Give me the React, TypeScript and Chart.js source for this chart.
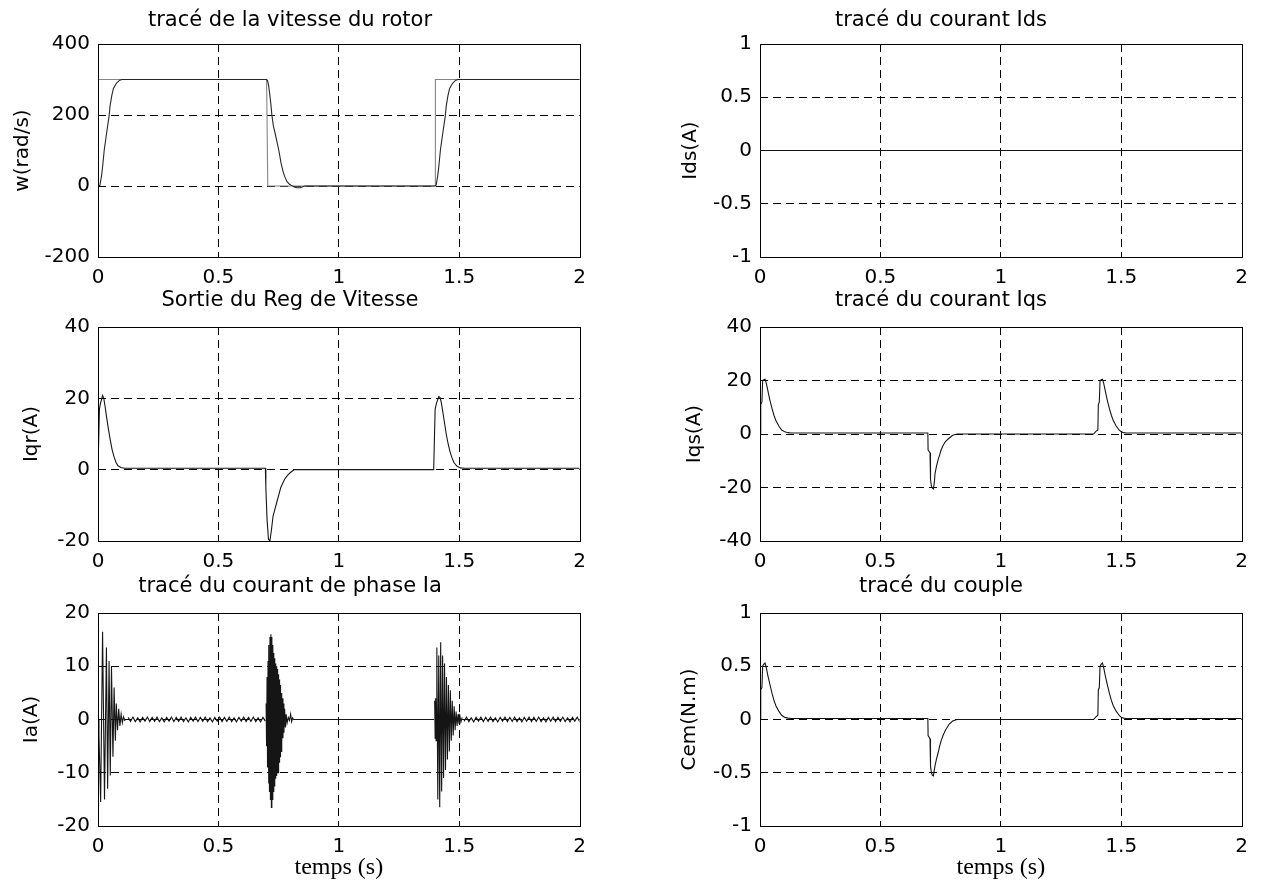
import React, { useEffect, useRef } from 'react';
import { Chart, registerables } from 'chart.js';

Chart.register(...registerables);

// ---------- data (time in s) ----------
const xTickValues = [0, 0.5, 1, 1.5, 2];

// rotor speed
const wRefTime = [0, 0.7, 0.705, 1.4, 1.401, 2];
const wRefValue = [300, 300, 0, 0, 300, 300];
const wTime = [0, 0.008, 0.015, 0.02, 0.026, 0.036, 0.046, 0.05, 0.057, 0.064, 0.077, 0.09, 0.1,
  0.7, 0.704, 0.708, 0.713, 0.718, 0.722, 0.728, 0.735, 0.743, 0.751, 0.76, 0.768, 0.775, 0.785, 0.795,
  0.805, 0.815, 0.825, 0.84, 0.85, 0.86,
  1.4, 1.404, 1.411, 1.416, 1.422, 1.432, 1.442, 1.446, 1.453, 1.46, 1.473, 1.486, 1.496, 2];
const wValue = [0, 2, 30, 60, 102, 150, 197, 225, 254, 275, 290, 298, 300,
  300, 297, 285, 260, 230, 200, 170, 150, 125, 100, 65, 42, 27, 12, 5,
  1, -3, -5, -5, -2, 0,
  0, 2, 30, 60, 102, 150, 197, 225, 254, 275, 290, 298, 300, 300];

// Ids
const idsTime = [0, 2];
const idsValue = [0, 0];

// speed regulator output Iqr
const iqrTime = [0, 0.002, 0.006, 0.01, 0.014, 0.019, 0.024, 0.03, 0.035, 0.043, 0.051, 0.059, 0.067,
  0.075, 0.083, 0.095, 0.11,
  0.695, 0.697, 0.702, 0.708, 0.714, 0.72, 0.727, 0.735, 0.743, 0.751, 0.759, 0.767, 0.775, 0.787, 0.799, 0.815,
  1.394, 1.396, 1.4, 1.405, 1.41, 1.415, 1.42, 1.425, 1.43, 1.438, 1.446, 1.454, 1.462, 1.47, 1.478,
  1.49, 1.505, 1.52, 2];
const iqrValue = [0, 6, 17, 18.5, 19.5, 20.8, 20, 17.5, 15, 11.5, 8.3, 5.5, 3.5,
  2, 1.1, 0.6, 0.4,
  0.4, -5, -14, -19.5, -20, -17, -13, -11, -9, -7, -5, -3.8, -2.7, -1.6, -0.8, 0,
  0, 6, 17, 18.5, 19.5, 20.5, 20.3, 19, 17, 13.5, 10, 7.2, 5, 3.3, 2,
  1, 0.5, 0.4, 0.4];

// Iqs and torque (same time base)
const currentTime = [0, 0.002, 0.004, 0.008, 0.011, 0.016, 0.021, 0.026, 0.032, 0.041, 0.05, 0.058,
  0.066, 0.078, 0.09, 0.103, 0.116, 0.13,
  0.697, 0.698, 0.706, 0.708, 0.712, 0.716, 0.72, 0.724, 0.727, 0.733, 0.74, 0.746, 0.752, 0.76, 0.77,
  0.785, 0.8, 0.818,
  1.385, 1.395, 1.403, 1.405, 1.409, 1.412, 1.417, 1.422, 1.427, 1.433, 1.442, 1.451, 1.459, 1.467,
  1.479, 1.491, 1.5, 1.51, 1.52, 2];
const iqsValue = [0, 0.4, 11, 12, 20, 20.3, 20.5, 19, 16.5, 12.7, 9.5, 7,
  5, 3, 1.5, 0.8, 0.5, 0.4,
  0.4, -6, -7, -17, -19.5, -20.2, -20.5, -18, -14.7, -12, -9.5, -7.8, -6, -4.3, -2.8,
  -1.6, -0.5, 0,
  0, 1, 1.5, 11, 12, 20, 20.3, 20.5, 19, 16.5, 12.7, 9.5, 7, 5,
  3, 1.5, 0.8, 0.5, 0.4, 0.4];
const cemValue = [0, 0.01, 0.28, 0.3, 0.5, 0.52, 0.53, 0.49, 0.42, 0.33, 0.245, 0.18,
  0.13, 0.078, 0.04, 0.02, 0.013, 0.01,
  0.01, -0.15, -0.18, -0.44, -0.5, -0.525, -0.53, -0.47, -0.43, -0.37, -0.31, -0.25, -0.2, -0.15, -0.1,
  -0.045, -0.015, 0,
  0, 0.025, 0.04, 0.28, 0.3, 0.5, 0.52, 0.53, 0.49, 0.42, 0.33, 0.245, 0.18, 0.13,
  0.078, 0.04, 0.02, 0.013, 0.01, 0.01];

// phase current Ia
const iaBurst1Time = [0, 0.004, 0.011, 0.019, 0.027, 0.035, 0.04, 0.046, 0.051, 0.056, 0.062, 0.067,
  0.072, 0.076, 0.081, 0.086, 0.091, 0.096, 0.101, 0.106, 0.112];
const iaBurst1Value = [0, -3, -15.5, 16.5, -15, 13.5, -13, 11, -10.5, 10, -7, 6,
  -4, 3, -2, 2, -1.2, 1, -0.6, 0.5, -0.3];
const iaRipple1Time = [0.125, 0.135, 0.145, 0.155, 0.165, 0.175, 0.185, 0.195, 0.205, 0.215,
  0.225, 0.235, 0.245, 0.255, 0.265, 0.275, 0.285, 0.295, 0.305, 0.315,
  0.325, 0.335, 0.345, 0.355, 0.365, 0.375, 0.385, 0.395, 0.405, 0.415,
  0.425, 0.435, 0.445, 0.455, 0.465, 0.475, 0.485, 0.495, 0.505, 0.515,
  0.525, 0.535, 0.545, 0.555, 0.565, 0.575, 0.585, 0.595, 0.605, 0.615,
  0.625, 0.635, 0.645, 0.655, 0.665, 0.675, 0.685, 0.695];
const iaRipple1Value = [0.4, -0.35, 0.45, -0.4, 0.3, -0.45, 0.4, -0.3, 0.45, -0.4,
  0.4, -0.35, 0.45, -0.4, 0.3, -0.45, 0.4, -0.3, 0.45, -0.4,
  0.4, -0.35, 0.45, -0.4, 0.3, -0.45, 0.4, -0.3, 0.45, -0.4,
  0.4, -0.35, 0.45, -0.4, 0.3, -0.45, 0.4, -0.3, 0.45, -0.4,
  0.4, -0.35, 0.45, -0.4, 0.3, -0.45, 0.4, -0.3, 0.45, -0.4,
  0.4, -0.35, 0.45, -0.4, 0.3, -0.45, 0.4, -0.3];
const iaBurst2Time = [0.698, 0.7, 0.702, 0.704, 0.706, 0.708, 0.71, 0.712, 0.714, 0.716,
  0.718, 0.72, 0.722, 0.724, 0.726, 0.728, 0.73, 0.732, 0.734, 0.736,
  0.738, 0.74, 0.742, 0.744, 0.746, 0.748, 0.75, 0.752, 0.754, 0.756,
  0.758, 0.76, 0.762, 0.764, 0.766, 0.768, 0.77, 0.772,
  0.775, 0.778, 0.781, 0.785, 0.79, 0.795, 0.8, 0.804, 0.808, 0.812, 1.395];
const iaBurst2Value = [3, -5, 8, -9, 11, -12, 14, -13.5, 15.5, -15,
  16, -16.5, 15.5, -15, 14, -13.5, 12.5, -12.5, 11.5, -11,
  10.5, -10.5, 10, -10, 9.5, -10, 8.5, -8, 7.5, -7,
  6.5, -6, 5, -4.5, 4, -3.5, 3, -2.5,
  2, -1.5, 1, -0.7, 0.4, -0.2, 1, -0.4, 0.3, 0, 0];
const iaBurst3Time = [1.398, 1.4, 1.402, 1.404, 1.407, 1.411, 1.415, 1.419, 1.423, 1.427,
  1.431, 1.435, 1.439, 1.443, 1.447, 1.451, 1.455, 1.459, 1.463, 1.467,
  1.471, 1.475, 1.479, 1.483, 1.487, 1.491, 1.495, 1.499, 1.503, 1.507, 1.512];
const iaBurst3Value = [3.5, -3.5, 4, -4, 13.5, -15, 12, -16.5, 14.5, -13.5,
  12, -11, 10.5, -9.5, 8, -7.5, 6.5, -6, 5.5, -4,
  3.5, -3, 2.5, -2, 1.5, -1.2, 1, -0.8, 0.6, -0.5, 0.4];
const iaRipple2Time = [1.52, 1.53, 1.54, 1.55, 1.56, 1.57, 1.58, 1.59, 1.6, 1.61,
  1.62, 1.63, 1.64, 1.65, 1.66, 1.67, 1.68, 1.69, 1.7, 1.71,
  1.72, 1.73, 1.74, 1.75, 1.76, 1.77, 1.78, 1.79, 1.8, 1.81,
  1.82, 1.83, 1.84, 1.85, 1.86, 1.87, 1.88, 1.89, 1.9, 1.91,
  1.92, 1.93, 1.94, 1.95, 1.96, 1.97, 1.98, 1.99, 2];
const iaRipple2Value = [-0.35, 0.45, -0.4, 0.3, -0.45, 0.4, -0.3, 0.45, -0.4, 0.4,
  -0.35, 0.45, -0.4, 0.3, -0.45, 0.4, -0.3, 0.45, -0.4, 0.4,
  -0.35, 0.45, -0.4, 0.3, -0.45, 0.4, -0.3, 0.45, -0.4, 0.4,
  -0.35, 0.45, -0.4, 0.3, -0.45, 0.4, -0.3, 0.45, -0.4, 0.4,
  -0.35, 0.45, -0.4, 0.3, -0.45, 0.4, -0.3, 0.45, -0.4];

// y-axis tick settings per panel
const wTicks = [-200, 0, 200, 400];
const idsTicks = [-1, -0.5, 0, 0.5, 1];
const iqrTicks = [-20, 0, 20, 40];
const iqsTicks = [-40, -20, 0, 20, 40];
const iaTicks = [-20, -10, 0, 10, 20];
const cemTicks = [-1, -0.5, 0, 0.5, 1];

// ---------- helpers ----------
const pts = (t: number[], v: number[]) => t.map((x, i) => ({ x, y: v[i] }));

const SANS = 'DejaVu Sans';

const boxPlugin = {
  id: 'matlabBox',
  afterDraw(chart: any) {
    const { ctx, chartArea } = chart;
    const l = Math.round(chartArea.left) + 0.5;
    const t = Math.round(chartArea.top) + 0.5;
    const r = Math.round(chartArea.right) + 0.5;
    const b = Math.round(chartArea.bottom) + 0.5;
    ctx.save();
    ctx.strokeStyle = '#000';
    ctx.lineWidth = 1;
    ctx.setLineDash([]);
    ctx.strokeRect(l, t, r - l, b - t);
    ctx.restore();
  },
};

type Series = { time: number[]; values: number[]; color: string };
type PanelProps = {
  left: number; top: number; width: number; height: number;
  yAxisWidth: number; xAxisHeight: number; titleTop: number;
  title: string; yLabel: string; yLabelPad: number;
  yTicks: number[]; series: Series[]; xLabel?: string;
};

function Panel(p: PanelProps) {
  const ref = useRef<HTMLCanvasElement | null>(null);
  useEffect(() => {
    if (!ref.current) return;
    const yMin = p.yTicks[0];
    const yMax = p.yTicks[p.yTicks.length - 1];
    const yStep = p.yTicks[1] - p.yTicks[0];
    const gridColor = (min: number, max: number) => (c: any) =>
      c.tick && (Math.abs(c.tick.value - min) < 1e-9 || Math.abs(c.tick.value - max) < 1e-9)
        ? 'rgba(0,0,0,0)'
        : '#000';
    const chart = new Chart(ref.current, {
      type: 'line',
      data: {
        datasets: p.series.map((s) => ({
          data: pts(s.time, s.values),
          borderColor: s.color,
          borderWidth: 1.1,
          pointRadius: 0,
          tension: 0,
          fill: false,
        })),
      },
      options: {
        responsive: false,
        animation: false,
        events: [],
        layout: { padding: { left: 0, right: 15, top: 0, bottom: 0 } },
        plugins: {
          legend: { display: false },
          tooltip: { enabled: false },
          title: {
            display: true,
            text: p.title,
            color: '#000',
            font: { family: SANS, size: 21, weight: 'normal', lineHeight: 1.2 },
            padding: { top: p.titleTop, bottom: 44 - 25.2 - p.titleTop },
          },
        },
        scales: {
          x: {
            type: 'linear',
            min: 0,
            max: 2,
            afterFit: (s: any) => { s.height = p.xAxisHeight; },
            afterBuildTicks: (s: any) => { s.ticks = xTickValues.map((v) => ({ value: v })); },
            ticks: {
              color: '#000',
              font: { family: SANS, size: 20, lineHeight: 1.2 },
              padding: 9,
              maxRotation: 0,
              minRotation: 0,
              autoSkip: false,
              callback: (v: any) => String(Math.round(Number(v) * 100) / 100),
            },
            grid: { color: gridColor(0, 2), lineWidth: 1, drawTicks: false },
            border: { display: false, dash: [8, 5] },
            title: p.xLabel
              ? {
                  display: true,
                  text: p.xLabel,
                  color: '#000',
                  font: { family: 'Liberation Serif', size: 24, lineHeight: 1 },
                  padding: { top: 0, bottom: 1.5 },
                }
              : { display: false },
          },
          y: {
            type: 'linear',
            min: yMin,
            max: yMax,
            afterFit: (s: any) => { s.width = p.yAxisWidth; },
            ticks: {
              stepSize: yStep,
              color: '#000',
              font: { family: SANS, size: 20, lineHeight: 1.2 },
              padding: 8,
              autoSkip: false,
              callback: (v: any) => String(Math.round(Number(v) * 100) / 100),
            },
            grid: { color: gridColor(yMin, yMax), lineWidth: 1, drawTicks: false },
            border: { display: false, dash: [8, 5] },
            title: {
              display: true,
              text: p.yLabel,
              color: '#000',
              font: { family: SANS, size: 20, lineHeight: 1.2 },
              padding: { top: p.yLabelPad, bottom: 0 },
            },
          },
        },
      } as any,
      plugins: [boxPlugin],
    });
    return () => chart.destroy();
  }, []);
  return (
    <canvas
      ref={ref}
      width={p.width}
      height={p.height}
      style={{ position: 'absolute', left: p.left, top: p.top, width: p.width, height: p.height }}
    />
  );
}

const DARK = '#151515';

export default function App() {
  return (
    <div
      style={{
        position: 'fixed', left: 0, top: 0, width: 1263, height: 881,
        background: '#fff', overflow: 'hidden',
      }}
    >
      <Panel left={0} top={0} width={595} height={283} yAxisWidth={98} xAxisHeight={26} titleTop={7.5}
        title="tracé de la vitesse du rotor" yLabel="w(rad/s)" yLabelPad={11} yTicks={wTicks}
        series={[
          { time: wTime, values: wValue, color: '#262626' },
          { time: wRefTime, values: wRefValue, color: '#858585' },
        ]} />
      <Panel left={640} top={0} width={617} height={283} yAxisWidth={120} xAxisHeight={26} titleTop={7.5}
        title="tracé du courant Ids" yLabel="Ids(A)" yLabelPad={39} yTicks={idsTicks}
        series={[{ time: idsTime, values: idsValue, color: DARK }]} />
      <Panel left={0} top={283} width={595} height={284} yAxisWidth={98} xAxisHeight={26} titleTop={5.4}
        title="Sortie du Reg de Vitesse" yLabel="Iqr(A)" yLabelPad={20} yTicks={iqrTicks}
        series={[{ time: iqrTime, values: iqrValue, color: DARK }]} />
      <Panel left={640} top={283} width={617} height={284} yAxisWidth={120} xAxisHeight={26} titleTop={5.4}
        title="tracé du courant Iqs" yLabel="Iqs(A)" yLabelPad={43} yTicks={iqsTicks}
        series={[{ time: currentTime, values: iqsValue, color: DARK }]} />
      <Panel left={0} top={569} width={595} height={312} yAxisWidth={98} xAxisHeight={55} titleTop={5.4}
        title="tracé du courant de phase Ia" yLabel="Ia(A)" yLabelPad={20} yTicks={iaTicks}
        xLabel="temps (s)"
        series={[
          { time: iaBurst1Time, values: iaBurst1Value, color: DARK },
          { time: iaRipple1Time, values: iaRipple1Value, color: DARK },
          { time: iaBurst2Time, values: iaBurst2Value, color: DARK },
          { time: iaBurst3Time, values: iaBurst3Value, color: DARK },
          { time: iaRipple2Time, values: iaRipple2Value, color: DARK },
        ]} />
      <Panel left={640} top={569} width={617} height={312} yAxisWidth={120} xAxisHeight={55} titleTop={5.4}
        title="tracé du couple" yLabel="Cem(N.m)" yLabelPad={38} yTicks={cemTicks}
        xLabel="temps (s)"
        series={[{ time: currentTime, values: cemValue, color: DARK }]} />
    </div>
  );
}
